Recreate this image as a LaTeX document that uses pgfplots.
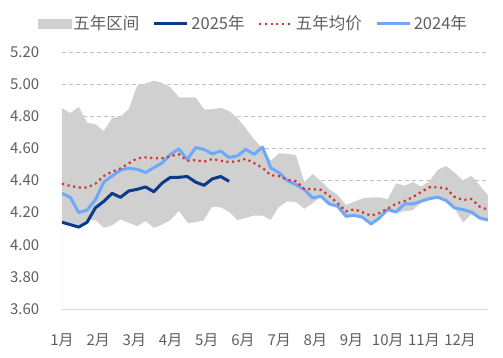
\documentclass[border=0pt]{standalone}
\usepackage{fontspec}
\setmainfont{Noto Sans CJK SC}
\usepackage{pgfplots}
\pgfplotsset{compat=1.18}
\usepackage{pgfplotstable}
\definecolor{bandgray}{HTML}{D0D0D0}
\definecolor{dark25}{HTML}{0A3A8A}
\definecolor{light24}{HTML}{6EA8F8}
\definecolor{avgred}{HTML}{D2362E}
\definecolor{gridgray}{HTML}{C0C0C0}
\definecolor{axisgray}{HTML}{BFBFBF}
\definecolor{txtgray}{HTML}{5F5F5F}
\pgfplotstableread{
i lo hi avg y24 y25
0 4.143 4.850 4.380 4.320 4.140
1 4.129 4.820 4.366 4.295 4.125
2 4.117 4.858 4.357 4.200 4.110
3 4.150 4.760 4.357 4.216 4.140
4 4.150 4.750 4.380 4.280 4.230
5 4.102 4.708 4.428 4.390 4.270
6 4.117 4.788 4.455 4.428 4.320
7 4.154 4.798 4.475 4.465 4.295
8 4.133 4.844 4.507 4.476 4.335
9 4.112 4.990 4.538 4.470 4.345
10 4.143 5.004 4.544 4.450 4.360
11 4.102 5.022 4.538 4.480 4.330
12 4.122 5.008 4.538 4.510 4.385
13 4.150 4.980 4.552 4.563 4.420
14 4.206 4.918 4.563 4.597 4.420
15 4.133 4.918 4.523 4.531 4.425
16 4.137 4.918 4.527 4.605 4.390
17 4.150 4.843 4.517 4.593 4.370
18 4.233 4.843 4.534 4.566 4.410
19 4.230 4.853 4.523 4.583 4.425
20 4.200 4.833 4.515 4.543 4.395
21 4.150 4.790 4.520 4.553 nan
22 4.164 4.725 4.535 4.594 nan
23 4.179 4.656 4.508 4.563 nan
24 4.179 4.600 4.479 4.608 nan
25 4.150 4.523 4.433 4.479 nan
26 4.233 4.569 4.427 4.448 nan
27 4.268 4.565 4.404 4.398 nan
28 4.262 4.559 4.396 4.375 nan
29 4.220 4.390 4.348 4.344 nan
30 4.254 4.440 4.346 4.292 nan
31 4.295 4.397 4.342 4.302 nan
32 4.250 4.345 4.304 4.254 nan
33 4.235 4.310 4.258 4.240 nan
34 4.170 4.247 4.208 4.177 nan
35 4.180 4.268 4.221 4.183 nan
36 4.165 4.289 4.202 4.171 nan
37 4.117 4.295 4.181 4.129 nan
38 4.150 4.295 4.198 4.167 nan
39 4.210 4.285 4.225 4.219 nan
40 4.196 4.382 4.256 4.204 nan
41 4.206 4.368 4.272 4.254 nan
42 4.212 4.390 4.296 4.254 nan
43 4.260 4.362 4.329 4.271 nan
44 4.275 4.397 4.358 4.2875 nan
45 4.285 4.467 4.358 4.296 nan
46 4.270 4.490 4.350 4.275 nan
47 4.220 4.449 4.298 4.229 nan
48 4.133 4.400 4.279 4.219 nan
49 4.185 4.430 4.285 4.204 nan
50 4.167 4.370 4.2375 4.167 nan
51 4.154 4.308 4.217 4.154 nan
}\data
\begin{document}
\begin{tikzpicture}
\useasboundingbox (0pt,0pt) rectangle (503pt,357pt);
\begin{axis}[
  at={(62pt,48pt)}, anchor=south west,
  scale only axis, width=426pt, height=257pt,
  xmin=0, xmax=51, ymin=3.6, ymax=5.2,
  axis x line=bottom, axis y line=left,
  x axis line style={draw=axisgray, line width=0.8pt, -},
  y axis line style={draw=none, -},
  xtick={0,4.333,8.667,13,17.333,21.667,26,30.333,34.667,39,43.333,47.667},
  xticklabels={1月,2月,3月,4月,5月,6月,7月,8月,9月,10月,11月,12月},
  xtick style={draw=axisgray, line width=0.8pt},
  major tick length=5pt, xtick align=inside,
  ytick={3.6,3.8,4.0,4.2,4.4,4.6,4.8,5.0,5.2},
  ytick style={draw=none},
  ymajorgrids, major grid style={draw=gridgray, line width=0.8pt, dash pattern=on 4pt off 3pt},
  /pgf/number format/fixed, /pgf/number format/fixed zerofill,
  /pgf/number format/precision=2, /pgf/number format/assume math mode=true,
  yticklabel style={font=\fontsize{15}{18}\selectfont, text=txtgray, anchor=east, inner sep=0pt, xshift=-20pt},
  xticklabel style={font=\fontsize{15}{18}\selectfont, text=txtgray, anchor=north, inner sep=0pt, yshift=-24pt},
  legend style={at={(0.4495,1.11)}, anchor=center, draw=none, fill=none,
    legend columns=4, font=\fontsize{16.5}{19}\selectfont, text=txtgray,
    nodes={inner sep=2.5pt},
    /tikz/every even column/.append style={column sep=11pt}},
  legend cell align=left,
]
\addlegendimage{legend image code/.code={\fill[bandgray] (0pt,-4.5pt) rectangle (33pt,4.5pt);}}
\addlegendentry{五年区间}
\addlegendimage{legend image code/.code={\draw[dark25, line width=3pt] (0pt,0pt) -- (33pt,0pt);}}
\addlegendentry{2025年}
\addlegendimage{legend image code/.code={\draw[avgred, line width=2.2pt, dash pattern=on 2.2pt off 3.5pt] (0pt,0pt) -- (33pt,0pt);}}
\addlegendentry{五年均价}
\addlegendimage{legend image code/.code={\draw[light24, line width=3pt] (0pt,0pt) -- (33pt,0pt);}}
\addlegendentry{2024年}
\addplot[fill=bandgray, draw=none, forget plot] table[x=i,y=hi]{\data} \closedcycle;
\addplot[fill=white, draw=white, line width=0.8pt, forget plot] table[x=i,y=lo]{\data} \closedcycle;
\addplot[light24, line width=3pt, line join=round, forget plot] table[x=i,y=y24]{\data};
\addplot[avgred, line width=2.2pt, dash pattern=on 2.2pt off 3.5pt, forget plot] table[x=i,y=avg]{\data};
\addplot[dark25, line width=3pt, line join=round, forget plot] table[x=i,y=y25]{\data};
\end{axis}
\end{tikzpicture}
\end{document}
